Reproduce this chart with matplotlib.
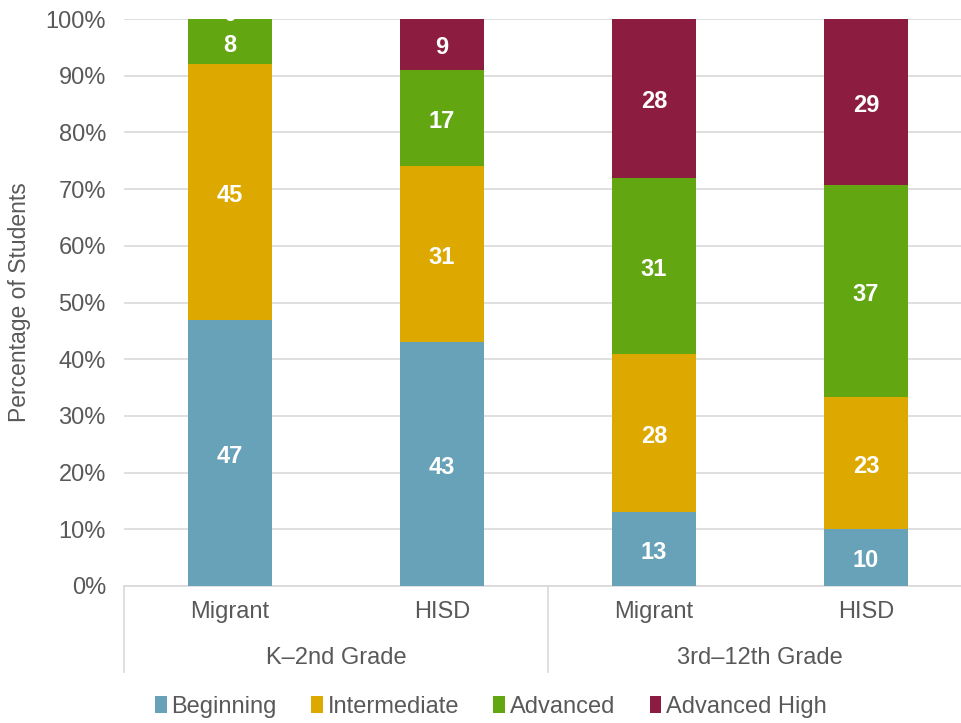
import numpy as np
import matplotlib.pyplot as plt
from matplotlib.patches import Patch
import matplotlib.transforms as mtransforms

plt.rcParams['font.family'] = ['Liberation Sans', 'DejaVu Sans']

groups = ["K\u20132nd Grade", "3rd\u201312th Grade"]
bars = ["Migrant", "HISD", "Migrant", "HISD"]
levels = ["Beginning", "Intermediate", "Advanced", "Advanced High"]
beginning = [47, 43, 13, 10]
intermediate = [45, 31, 28, 23]
advanced = [8, 17, 31, 37]
advanced_high = [0, 9, 28, 29]
colors = ["#67A2B9", "#DDA800", "#62A612", "#8C1D40"]

txt = "#595959"
series = np.array([beginning, intermediate, advanced, advanced_high], dtype=float)
pct = series / series.sum(axis=0) * 100

fig = plt.figure(figsize=(9.61, 7.23), dpi=100)
ax = fig.add_axes([124/961, 1 - 586/723, 1 - 124/961, 567/723])

x = np.arange(len(bars))
bottom = np.zeros(len(bars))
for i, lev in enumerate(levels):
    ax.bar(x, pct[i], 0.4, bottom=bottom, color=colors[i], zorder=3)
    for j in range(len(bars)):
        # zero-height segment: label sits above the bar top, mostly white on white
        dy = 3.5 if series[i][j] == 0 else -2.5
        ax.annotate(f"{int(series[i][j])}", (x[j], bottom[j] + pct[i][j] / 2),
                    xytext=(0, dy), textcoords="offset points",
                    ha="center", va="center", color="white", fontsize=17,
                    fontweight="bold", zorder=4, annotation_clip=False)
    bottom += pct[i]

ax.set_ylim(0, 100)
ax.set_xlim(-0.5, -0.5 + 837/212)
ax.set_yticks(np.arange(0, 101, 10))
ax.set_yticklabels([f"{v}%" for v in range(0, 101, 10)], fontsize=17, color=txt)
ax.yaxis.grid(True, color="#D9D9D9", linewidth=1.2, zorder=0)
ax.tick_params(axis="y", length=0, pad=13)
ax.set_xticks(x)
ax.set_xticklabels(bars, fontsize=17, color=txt)
ax.tick_params(axis="x", length=0, pad=11)
for s in ["top", "right", "left"]:
    ax.spines[s].set_visible(False)
ax.spines["bottom"].set_color("#D9D9D9")
ax.spines["bottom"].set_linewidth(1.2)

trans = mtransforms.blended_transform_factory(ax.transData, ax.transAxes)
for xs in [-0.5, 1.5, 3.5]:
    ax.plot([xs, xs], [0, -86/567], transform=trans, color="#D9D9D9",
            linewidth=1.2, clip_on=False)
for k, g in enumerate(groups):
    ax.text(2 * k + 0.5, -72/567, g, transform=trans, ha="center",
            va="center", fontsize=17, color=txt)

fig.text(20/961, 1 - 302/723, "Percentage of Students", rotation=90,
         ha="center", va="center", fontsize=16.5, color=txt)

handles = [Patch(facecolor=c, edgecolor="none") for c in colors]
fig.legend(handles, levels, loc="center", bbox_to_anchor=(491/961, 1 - 707/723),
           ncol=4, frameon=False, fontsize=17, handlelength=0.5,
           handleheight=0.7, handletextpad=0.2, columnspacing=1.45,
           labelcolor=txt)

fig.savefig("out.png", dpi=100)
